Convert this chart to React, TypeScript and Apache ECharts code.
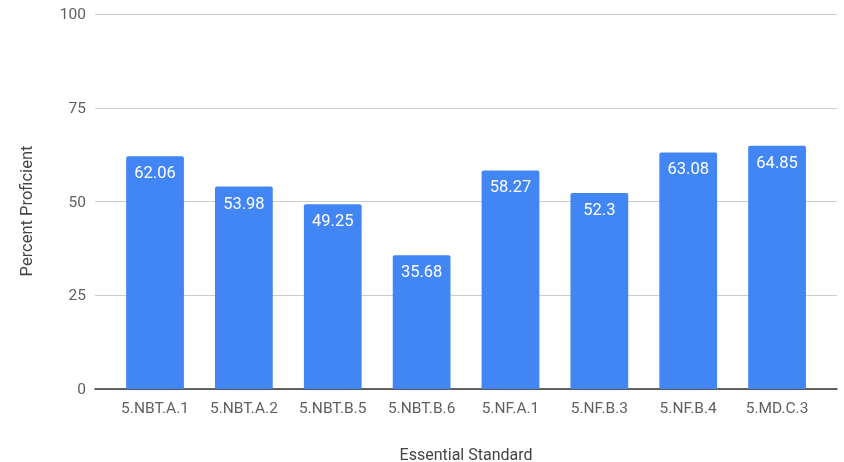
import React, { useEffect, useRef } from "react";
import * as echarts from "echarts";

const categories = ["5.NBT.A.1", "5.NBT.A.2", "5.NBT.B.5", "5.NBT.B.6", "5.NF.A.1", "5.NF.B.3", "5.NF.B.4", "5.MD.C.3"];
const values = [62.06, 53.98, 49.25, 35.68, 58.27, 52.3, 63.08, 64.85];
const yTicks = [0, 25, 50, 75, 100];
const yTitle = "Percent Proficient";
const xTitle = "Essential Standard";

export default function App() {
  const ref = useRef<HTMLDivElement>(null);
  useEffect(() => {
    if (!ref.current) return;
    const chart = echarts.init(ref.current, undefined, { renderer: "svg" });
    const font = "Roboto";
    chart.setOption({
      animation: false,
      textStyle: { fontFamily: font },
      grid: [
        { left: 95, right: 7, top: 14, bottom: 73, outerBoundsMode: "none", containLabel: false },
        { left: 110.6, right: 22.5, top: 14, bottom: 73, outerBoundsMode: "none", containLabel: false },
      ],
      graphic: [
        {
          type: "text", x: 26, y: 211, rotation: Math.PI / 2,
          style: {
            text: yTitle, fill: "#444", fontSize: 16.5, fontFamily: font,
            align: "center", verticalAlign: "middle",
          },
        },
      ],
      xAxis: [
        {
          gridIndex: 0, type: "value", min: 0, max: 1,
          axisLine: { show: true, lineStyle: { color: "#333", width: 1.5 } },
          axisTick: { show: false }, axisLabel: { show: false }, splitLine: { show: false },
        },
        {
          gridIndex: 1, type: "category", data: categories,
          axisLine: { show: false }, axisTick: { show: false },
          axisLabel: { color: "#5f5f5f", fontSize: 15.5, margin: 11, fontFamily: font },
          name: xTitle, nameLocation: "middle", nameGap: 57,
          nameTextStyle: { color: "#444", fontSize: 16, fontFamily: font },
        },
      ],
      yAxis: [
        {
          gridIndex: 0, type: "value", min: yTicks[0], max: yTicks[yTicks.length - 1], interval: 25,
          axisLine: { show: false }, axisTick: { show: false },
          axisLabel: { color: "#5f5f5f", fontSize: 15.5, margin: 9, fontFamily: font },
          splitLine: { lineStyle: { color: "#cccccc", width: 1 } },
        },
        {
          gridIndex: 1, type: "value", min: 0, max: 100, show: false,
        },
      ],
      series: [
        {
          type: "bar", xAxisIndex: 1, yAxisIndex: 1, data: values,
          barWidth: "65%",
          itemStyle: { color: "#4285F4", borderRadius: [2, 2, 0, 0] },
          label: {
            show: true, position: "insideTop", distance: 8,
            color: "#ffffff", fontSize: 16.5, fontFamily: font,
          },
        },
      ],
    });
    return () => chart.dispose();
  }, []);
  return (
    <div
      ref={ref}
      style={{ position: "fixed", left: 0, top: 0, width: 844, height: 462 }}
    />
  );
}
